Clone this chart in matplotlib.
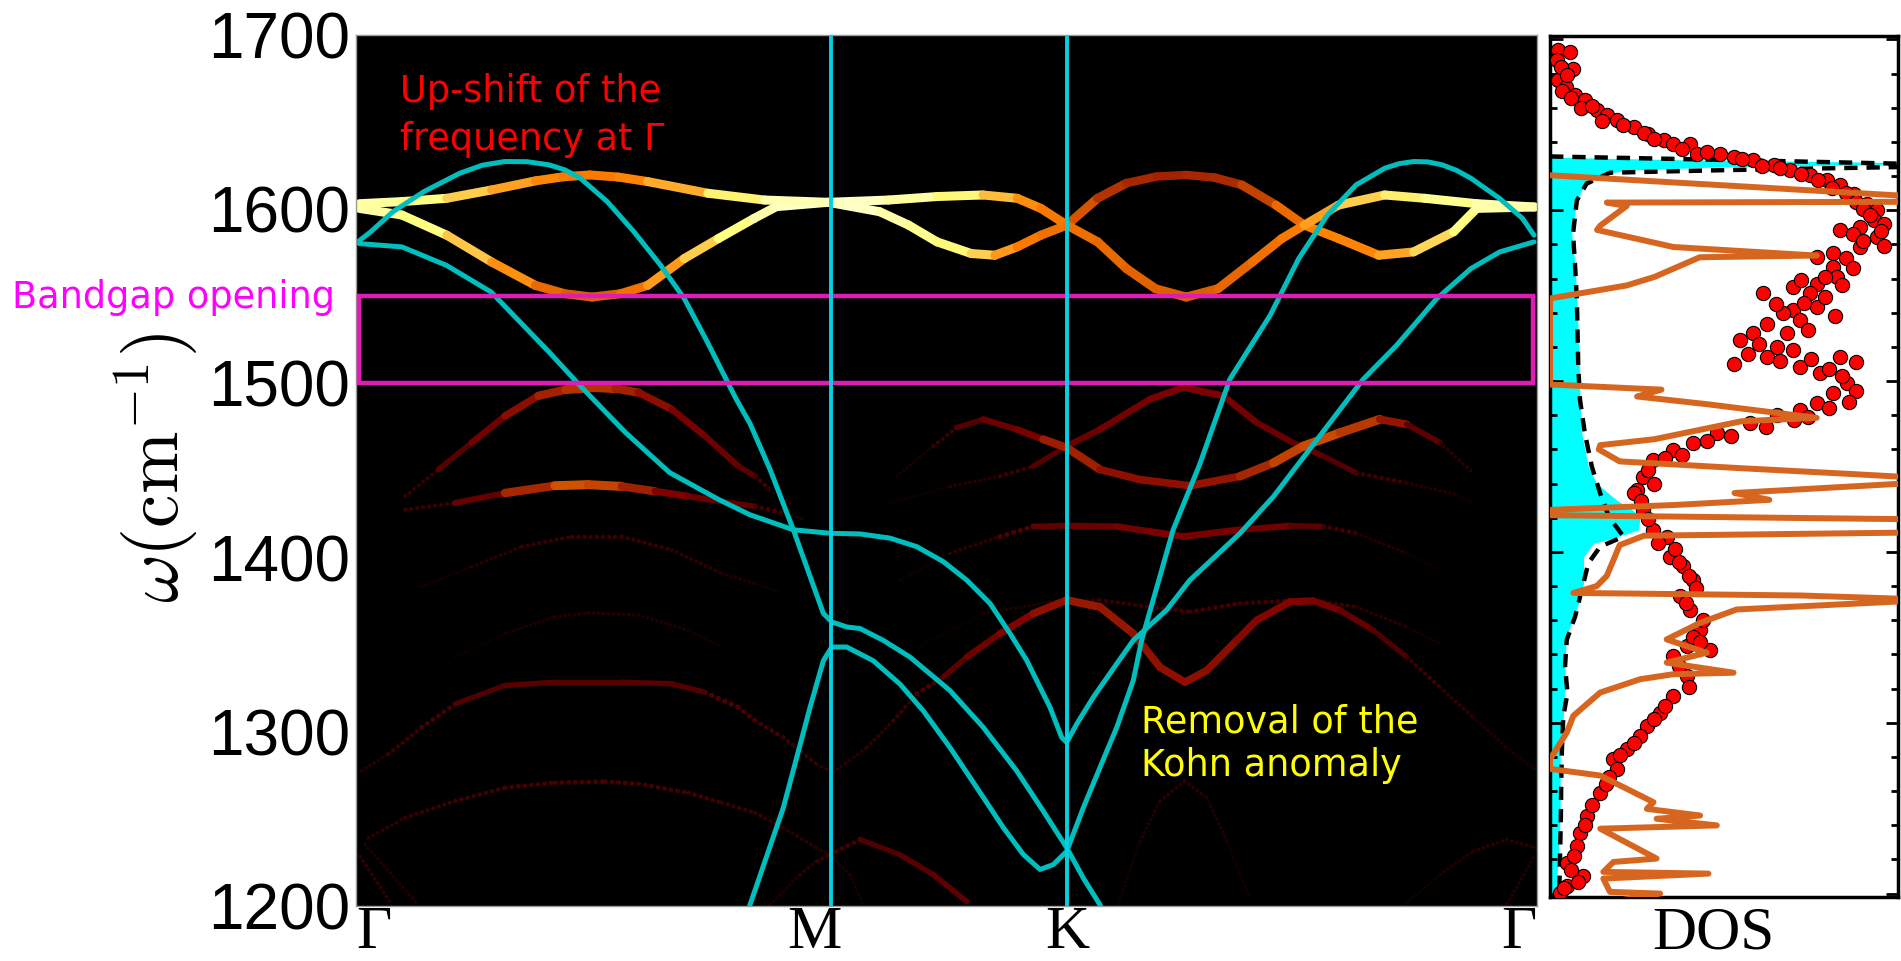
import numpy as np
import matplotlib
matplotlib.use('Agg')
import matplotlib.pyplot as plt
from matplotlib.collections import LineCollection
from matplotlib.patches import Rectangle
from matplotlib.ticker import MultipleLocator

plt.rcParams['mathtext.fontset'] = 'cm'

# k-path: fraction along Gamma-M-K-Gamma
m_point = 0.402
k_point = 0.6024
tick_pos = [0.0, 0.388, 0.602, 1.0]
tick_labels = ['Γ', 'M', 'K', 'Γ']
freq_ticks = [1200, 1300, 1400, 1500, 1600, 1700]

# unfolded bands: (k, omega, spectral weight)
band_up1 = [(0.003, 1603.2, 0.83), (0.039, 1604.4, 0.8), (0.077, 1606.3, 0.7), (0.115, 1611.1, 0.6),
            (0.152, 1616.3, 0.53), (0.175, 1618.6, 0.5), (0.198, 1619.7, 0.48), (0.222, 1618.5, 0.5),
            (0.247, 1615.9, 0.52), (0.298, 1609.2, 0.65), (0.346, 1605.3, 0.8), (0.40, 1604.0, 0.9),
            (0.451, 1605.3, 0.85), (0.492, 1607.3, 0.78), (0.531, 1608.2, 0.69), (0.56, 1606.3, 0.55),
            (0.58, 1600.5, 0.5), (0.602, 1590.9, 0.47), (0.628, 1581.3, 0.46), (0.6525, 1565.9, 0.45),
            (0.677, 1554.4, 0.44), (0.703, 1549.6, 0.43), (0.730, 1554.4, 0.44), (0.759, 1569.7, 0.46),
            (0.784, 1583.2, 0.48), (0.803, 1590.9, 0.5), (0.832, 1602.4, 0.62), (0.871, 1608.2, 0.68),
            (0.905, 1606.3, 0.75), (0.949, 1603.2, 0.82), (0.998, 1601.3, 0.85)]
band_up2 = [(0.003, 1600.5, 0.83), (0.039, 1596.7, 0.8), (0.077, 1585.1, 0.7), (0.115, 1569.7, 0.58),
            (0.152, 1556.3, 0.48), (0.177, 1551.5, 0.44), (0.20, 1549.6, 0.42), (0.224, 1551.5, 0.45),
            (0.247, 1556.3, 0.5), (0.278, 1571.7, 0.6), (0.307, 1583.2, 0.7), (0.337, 1594.7, 0.8),
            (0.356, 1601.5, 0.86), (0.40, 1604.0, 0.92), (0.4435, 1598.6, 0.85), (0.468, 1590.9, 0.8),
            (0.492, 1581.3, 0.75), (0.521, 1574.6, 0.72), (0.541, 1573.6, 0.6), (0.560, 1578.4, 0.5),
            (0.580, 1585.1, 0.48), (0.602, 1590.9, 0.46), (0.628, 1606.3, 0.37), (0.6525, 1615.0, 0.33),
            (0.678, 1618.8, 0.32), (0.703, 1619.7, 0.32), (0.727, 1618.2, 0.33), (0.750, 1614.0, 0.34),
            (0.779, 1602.4, 0.42), (0.803, 1590.9, 0.5), (0.832, 1583.2, 0.5), (0.866, 1573.6, 0.52),
            (0.8955, 1575.5, 0.62), (0.9295, 1587.1, 0.72), (0.949, 1600.5, 0.8), (0.998, 1601.3, 0.85)]
band_a = [(0.0417, 1435.2, 0.06), (0.0699, 1450.6, 0.15), (0.0981, 1466.0, 0.2), (0.1263, 1481.3, 0.25),
          (0.1545, 1492.9, 0.3), (0.178, 1496.5, 0.34), (0.2025, 1497.7, 0.37), (0.22, 1497.0, 0.34),
          (0.2392, 1494.8, 0.3), (0.2674, 1485.2, 0.25), (0.2956, 1469.8, 0.22), (0.3238, 1452.5, 0.2),
          (0.338, 1446.7, 0.16), (0.3507, 1439.0, 0.1), (0.37, 1430.0, 0.04)]
band_b = [(0.0417, 1427.5, 0.08), (0.084, 1431.4, 0.15), (0.1263, 1437.1, 0.25), (0.1686, 1441.3, 0.4),
          (0.1968, 1441.9, 0.42), (0.2251, 1440.9, 0.35), (0.2533, 1438.1, 0.28), (0.2815, 1435.2, 0.22),
          (0.3098, 1432.3, 0.2), (0.338, 1429.4, 0.17), (0.3619, 1425.6, 0.1), (0.38, 1422.0, 0.04)]
band_c = [(0.0558, 1383.3, 0.03), (0.0981, 1394.8, 0.07), (0.1404, 1406.3, 0.1), (0.1828, 1412.1, 0.12),
          (0.2251, 1412.1, 0.12), (0.2674, 1404.4, 0.1), (0.3098, 1391.0, 0.08), (0.338, 1385.2, 0.06),
          (0.36, 1380.0, 0.03)]
band_d = [(0.084, 1342.9, 0.02), (0.1263, 1356.4, 0.05), (0.1686, 1366.0, 0.07), (0.1968, 1368.3, 0.08),
          (0.2392, 1367.0, 0.08), (0.2815, 1358.3, 0.06), (0.3098, 1348.7, 0.04)]
band_e = [(0.005, 1277.6, 0.05), (0.0275, 1287.2, 0.1), (0.0558, 1302.5, 0.13), (0.084, 1316.0, 0.15),
          (0.1263, 1326.6, 0.17), (0.1686, 1328.5, 0.17), (0.2251, 1328.5, 0.17), (0.2674, 1327.6, 0.17),
          (0.2956, 1322.7, 0.16), (0.3238, 1314.1, 0.15), (0.338, 1306.4, 0.14), (0.3619, 1296.8, 0.12),
          (0.3902, 1281.4, 0.1), (0.4043, 1276.6, 0.08), (0.4325, 1291.0, 0.08), (0.4551, 1306.4, 0.1),
          (0.4749, 1321.8, 0.13), (0.4974, 1331.4, 0.16), (0.5172, 1342.9, 0.2), (0.5454, 1356.4, 0.24),
          (0.5736, 1367.9, 0.27), (0.6019, 1375.6, 0.3), (0.63, 1371.7, 0.3), (0.6582, 1356.4, 0.29),
          (0.6808, 1337.1, 0.28), (0.702, 1328.5, 0.28), (0.7204, 1335.2, 0.28), (0.7458, 1352.5, 0.27),
          (0.7627, 1364.1, 0.26), (0.7909, 1374.6, 0.26), (0.8106, 1375.2, 0.25), (0.8332, 1369.8, 0.22),
          (0.8614, 1358.3, 0.18), (0.8897, 1343.0, 0.14), (0.9179, 1325.6, 0.1), (0.9461, 1308.3, 0.08),
          (0.9743, 1291.0, 0.06), (0.9997, 1277.6, 0.05)]
band_f = [(0.0106, 1239.1, 0.08), (0.0417, 1250.6, 0.1), (0.084, 1260.3, 0.12), (0.1263, 1267.9, 0.13),
          (0.1686, 1270.8, 0.14), (0.2109, 1271.4, 0.14), (0.2392, 1270.2, 0.14), (0.2815, 1265.0, 0.13),
          (0.3098, 1259.3, 0.12), (0.338, 1253.5, 0.11), (0.3619, 1244.9, 0.1), (0.3902, 1233.3, 0.08),
          (0.4015, 1229.5, 0.07), (0.4183, 1218.0, 0.06), (0.4297, 1200.7, 0.05)]
band_g = [(0.3507, 1200.7, 0.05), (0.376, 1218.0, 0.08), (0.3902, 1225.7, 0.1), (0.4015, 1229.5, 0.12),
          (0.4269, 1238.2, 0.15), (0.4607, 1229.5, 0.17), (0.4889, 1218.0, 0.18), (0.5172, 1202.6, 0.18)]
band_h = [(0.4579, 1446.7, 0.03), (0.4889, 1464.0, 0.08), (0.5087, 1474.6, 0.14), (0.5313, 1479.4, 0.2),
          (0.5595, 1473.6, 0.22), (0.582, 1467.9, 0.26), (0.6019, 1463.1, 0.35), (0.63, 1450.6, 0.28),
          (0.6639, 1444.8, 0.28), (0.7062, 1441.3, 0.28), (0.7486, 1446.7, 0.3), (0.7768, 1454.4, 0.35),
          (0.8022, 1464.0, 0.4), (0.8332, 1471.7, 0.39), (0.867, 1479.4, 0.33), (0.8897, 1476.5, 0.25),
          (0.9179, 1466.0, 0.12), (0.9461, 1448.6, 0.05)]
band_i = [(0.4523, 1431.4, 0.02), (0.5031, 1440.9, 0.06), (0.5454, 1446.7, 0.1), (0.5736, 1452.5, 0.14),
          (0.6019, 1464.0, 0.2), (0.63, 1473.6, 0.22), (0.6724, 1491.0, 0.24), (0.7006, 1497.7, 0.25),
          (0.7344, 1492.9, 0.24), (0.7627, 1477.5, 0.22), (0.7909, 1466.9, 0.2), (0.8191, 1458.2, 0.18),
          (0.8473, 1448.6, 0.15), (0.8897, 1442.9, 0.1), (0.932, 1436.2, 0.05), (0.9461, 1431.0, 0.03)]
band_j = [(0.4607, 1387.1, 0.02), (0.5031, 1402.5, 0.06), (0.5454, 1412.1, 0.12), (0.5736, 1417.9, 0.18),
          (0.6019, 1418.3, 0.2), (0.6442, 1417.9, 0.22), (0.6724, 1415.0, 0.24), (0.7006, 1412.1, 0.25),
          (0.7486, 1416.0, 0.23), (0.7909, 1418.3, 0.2), (0.8191, 1417.9, 0.16), (0.8473, 1414.0, 0.1),
          (0.8897, 1402.5, 0.05), (0.9179, 1392.9, 0.02)]
band_k = [(0.4749, 1348.7, 0.02), (0.5313, 1367.9, 0.05), (0.5877, 1374.6, 0.08), (0.63, 1375.6, 0.1),
          (0.6724, 1371.7, 0.12), (0.7062, 1368.9, 0.13), (0.7486, 1373.7, 0.13), (0.805, 1376.0, 0.12),
          (0.8473, 1371.7, 0.1), (0.8897, 1360.2, 0.07), (0.9179, 1350.6, 0.04)]
band_l = [(0.645, 1200.5, 0.03), (0.6639, 1237.2, 0.06), (0.6808, 1260.3, 0.08), (0.702, 1271.8, 0.09),
          (0.7204, 1262.2, 0.08), (0.7373, 1237.2, 0.06), (0.757, 1204.5, 0.04)]
band_m = [(0.884, 1198.7, 0.03), (0.9179, 1218.0, 0.06), (0.9461, 1231.4, 0.08), (0.9743, 1238.2, 0.09),
          (0.9997, 1233.3, 0.08)]
band_g1 = [(0.0036, 1228.5, 0.1), (0.0304, 1200.7, 0.08)]
band_g2 = [(0.0078, 1235.3, 0.08), (0.0529, 1200.7, 0.06)]
band_g3 = [(0.9969, 1227.6, 0.08), (0.9743, 1200.7, 0.06)]

# pristine dispersion (k, omega)
pristine_to = [(0.003, 1580.3), (0.039, 1578.4), (0.0767, 1567.8), (0.1145, 1552.5), (0.1636, 1518.0),
               (0.19, 1498.6), (0.228, 1472.0), (0.2657, 1448.8), (0.3074, 1433.3), (0.3337, 1424.6),
               (0.3704, 1416.0), (0.4015, 1414.0), (0.4269, 1413.6), (0.4523, 1411.2), (0.4749, 1406.3),
               (0.4974, 1397.7), (0.5172, 1387.1), (0.5369, 1373.7), (0.5539, 1356.4), (0.568, 1341.0),
               (0.5736, 1333.3), (0.5877, 1314.1), (0.5976, 1296.8), (0.6019, 1293.9), (0.6103, 1304.5),
               (0.6244, 1319.9), (0.6442, 1339.1), (0.6582, 1352.5), (0.6865, 1370.0), (0.706, 1387.0),
               (0.7486, 1414.0), (0.7768, 1435.0), (0.805, 1460.0), (0.8332, 1485.0), (0.853, 1502.5),
               (0.8809, 1521.7), (0.915, 1548.6), (0.944, 1565.9), (0.9684, 1575.5), (0.9975, 1581.3)]
pristine_lo = [(0.003, 1582.0), (0.0125, 1587.0), (0.0314, 1598.6), (0.0578, 1610.2), (0.088, 1620.7),
               (0.107, 1625.3), (0.1259, 1627.4), (0.145, 1627.3), (0.1636, 1625.5), (0.177, 1622.6),
               (0.1901, 1617.8), (0.2128, 1604.4), (0.2354, 1587.1), (0.2581, 1567.8), (0.2782, 1548.6),
               (0.2977, 1523.6), (0.322, 1491.0), (0.3337, 1477.0), (0.3507, 1450.6), (0.3704, 1416.0),
               (0.3958, 1368.0), (0.4029, 1363.1), (0.4156, 1360.2), (0.4269, 1359.3), (0.4466, 1352.5),
               (0.4692, 1342.9), (0.503, 1323.7), (0.5313, 1302.5), (0.5595, 1277.6), (0.582, 1254.5),
               (0.6019, 1233.4), (0.6159, 1216.1), (0.63, 1200.7), (0.64, 1188.0)]
pristine_la = [(0.3316, 1195.0), (0.3337, 1200.7), (0.3619, 1256.4), (0.3845, 1313.9), (0.3958, 1340.8),
               (0.4029, 1348.7), (0.4156, 1348.7), (0.4381, 1340.8), (0.4607, 1327.4), (0.4805, 1312.0),
               (0.503, 1291.0), (0.5257, 1268.0), (0.5482, 1245.0), (0.5651, 1229.6), (0.5793, 1221.0),
               (0.5905, 1223.8), (0.6019, 1231.5), (0.6159, 1256.4), (0.63, 1279.5), (0.6442, 1302.5),
               (0.6582, 1329.5), (0.6653, 1352.5), (0.692, 1416.0), (0.7147, 1454.0), (0.740, 1502.5),
               (0.774, 1539.0), (0.7983, 1571.7), (0.8226, 1596.7), (0.8469, 1614.0), (0.8712, 1623.6),
               (0.8834, 1626.2), (0.8955, 1627.4), (0.9076, 1627.2), (0.9198, 1625.5), (0.932, 1622.3),
               (0.9441, 1617.8), (0.9684, 1606.2), (0.9878, 1594.7), (0.9975, 1585.1)]

gap_low, gap_high = 1500, 1550

# DOS panel (dos in arbitrary units, omega)
dos_fill = [(0.0, 1634.0), (0.02, 1631.0), (0.4, 1629.5), (1.0, 1628.0), (1.05, 1627.0), (0.5, 1625.5),
            (0.22, 1623.5), (0.13, 1620.0), (0.105, 1617.5), (0.077, 1605.8), (0.062, 1586.5),
            (0.072, 1566.9), (0.077, 1547.4), (0.081, 1527.9), (0.084, 1508.4), (0.086, 1488.9),
            (0.091, 1469.4), (0.11, 1449.9), (0.1335, 1440.2), (0.191, 1430.4), (0.24, 1424.0),
            (0.258, 1420.7), (0.255, 1413.0), (0.18, 1408.0), (0.124, 1405.0), (0.096, 1397.2),
            (0.096, 1381.6), (0.086, 1371.9), (0.067, 1362.1), (0.048, 1350.4), (0.043, 1338.7),
            (0.043, 1323.1), (0.038, 1303.6), (0.029, 1284.1), (0.029, 1264.6), (0.029, 1245.2),
            (0.024, 1225.7), (0.019, 1206.2), (0.017, 1198.0)]
dos_broad = [(0.0, 1631.5), (0.5, 1629.5), (1.0, 1627.3), (1.1, 1626.5), (1.0, 1625.3), (0.5, 1623.5),
             (0.172, 1622.0), (0.105, 1615.6), (0.077, 1605.8), (0.066, 1586.3), (0.072, 1566.9),
             (0.077, 1547.4), (0.079, 1527.9), (0.081, 1508.4), (0.086, 1488.9), (0.1, 1469.4),
             (0.12, 1449.9), (0.144, 1434.3), (0.17, 1420.0), (0.19, 1414.8), (0.211, 1409.0),
             (0.144, 1403.1), (0.11, 1393.4), (0.091, 1377.8), (0.072, 1362.2), (0.048, 1348.6),
             (0.043, 1333.0), (0.05, 1317.4), (0.038, 1303.7), (0.034, 1284.2), (0.032, 1264.7),
             (0.031, 1245.3), (0.029, 1225.8), (0.027, 1206.3), (0.026, 1198.0)]
dos_defect = [(0.0, 1620.5), (1.1, 1607.5), (1.1, 1605.0), (0.163, 1604.5), (0.22, 1602.5), (0.144, 1591.0),
              (0.135, 1588.5), (0.30, 1581.0), (0.354, 1578.5), (0.766, 1573.5), (0.43, 1572.5),
              (0.30, 1561.0), (0.22, 1556.0), (0.0, 1548.4), (0.0, 1498.0), (0.32, 1495.0),
              (0.25, 1491.0), (0.45, 1486.5), (0.766, 1478.5), (0.55, 1476.5), (0.30, 1466.0),
              (0.144, 1462.5), (0.14, 1460.0), (0.2, 1453.0), (0.55, 1449.0), (0.83, 1446.0),
              (1.1, 1443.0), (1.1, 1441.0), (0.53, 1434.5), (0.63, 1430.5), (0.36, 1427.5),
              (0.0, 1424.6), (0.0, 1421.5), (1.1, 1419.0), (1.1, 1411.5), (0.27, 1409.5), (0.2, 1404.0),
              (0.163, 1386.0), (0.134, 1380.0), (0.067, 1376.0), (0.72, 1374.5), (1.1, 1372.0),
              (0.536, 1366.3), (0.431, 1358.5), (0.335, 1348.8), (0.45, 1341.0), (0.335, 1335.2),
              (0.527, 1329.3), (0.354, 1328.4), (0.259, 1325.5), (0.144, 1317.7), (0.067, 1304.1),
              (0.048, 1294.3), (0.0, 1278.7), (0.0, 1273.0), (0.144, 1269.1), (0.297, 1253.5),
              (0.278, 1249.6), (0.431, 1245.7), (0.306, 1243.8), (0.479, 1239.9), (0.144, 1238.0),
              (0.306, 1220.5), (0.182, 1218.5), (0.153, 1212.7), (0.455, 1211.7), (0.153, 1208.8),
              (0.172, 1201.0), (0.316, 1200.0), (0.2, 1196.0)]
dos_exp = [(0.024, 1693.6), (0.057, 1692.6), (0.019, 1687.7), (0.067, 1682.9), (0.024, 1676.0),
           (0.045, 1672.0), (0.072, 1667.3), (0.1, 1664.3), (0.134, 1658.5), (0.163, 1655.6),
           (0.192, 1652.6), (0.24, 1648.7), (0.282, 1644.8), (0.326, 1640.9), (0.354, 1639.0),
           (0.402, 1639.0), (0.421, 1633.2), (0.488, 1633.2), (0.527, 1631.2), (0.584, 1629.2),
           (0.642, 1626.3), (0.69, 1623.4), (0.747, 1620.5), (0.795, 1617.5), (0.834, 1614.6),
           (0.872, 1609.8), (0.911, 1603.9), (0.94, 1600.0), (0.93, 1594.2), (0.891, 1590.3),
           (0.834, 1588.3), (0.94, 1584.4), (0.891, 1578.6), (0.814, 1574.7), (0.766, 1572.7),
           (0.814, 1566.9), (0.824, 1561.0), (0.766, 1557.1), (0.699, 1555.2), (0.613, 1551.3),
           (0.747, 1551.3), (0.766, 1543.5), (0.699, 1541.5), (0.67, 1539.6), (0.623, 1533.7),
           (0.718, 1535.7), (0.584, 1527.9), (0.546, 1524.0), (0.651, 1520.1), (0.527, 1510.3),
           (0.623, 1514.2), (0.699, 1518.1), (0.834, 1514.2), (0.718, 1508.4), (0.776, 1504.5),
           (0.853, 1498.6), (0.814, 1492.8), (0.766, 1487.0), (0.718, 1483.1), (0.651, 1480.1),
           (0.575, 1475.3), (0.479, 1469.4), (0.412, 1463.6), (0.354, 1459.6), (0.297, 1453.8),
           (0.268, 1444.1), (0.249, 1436.3), (0.24, 1434.4), (0.268, 1424.6), (0.297, 1412.9),
           (0.335, 1409.0), (0.345, 1397.3), (0.383, 1391.5), (0.412, 1383.7), (0.373, 1374.0),
           (0.402, 1366.2), (0.431, 1354.5), (0.46, 1342.8), (0.393, 1344.8), (0.354, 1338.9),
           (0.393, 1327.2), (0.354, 1315.5), (0.316, 1305.8), (0.278, 1298.0), (0.259, 1292.2),
           (0.22, 1284.4), (0.182, 1278.5), (0.192, 1272.7), (0.144, 1259.0), (0.105, 1245.4),
           (0.086, 1235.6), (0.077, 1227.8), (0.048, 1218.1), (0.096, 1210.3), (0.048, 1204.4),
           (0.029, 1200.5),
           (0.03, 1684.0), (0.05, 1679.0), (0.035, 1670.0), (0.06, 1666.0), (0.09, 1660.0), (0.12, 1661.0),
           (0.15, 1652.0), (0.21, 1650.0), (0.27, 1645.0), (0.3, 1642.0), (0.38, 1636.0), (0.45, 1634.0),
           (0.55, 1630.0), (0.61, 1626.0), (0.66, 1624.5), (0.72, 1621.5), (0.77, 1617.8), (0.81, 1613.0),
           (0.85, 1610.0), (0.88, 1605.0), (0.9, 1601.0), (0.92, 1597.0), (0.96, 1592.0), (0.95, 1588.0),
           (0.87, 1586.0), (0.9, 1582.0), (0.96, 1579.0), (0.85, 1572.0), (0.87, 1566.0), (0.79, 1561.0),
           (0.72, 1559.0), (0.84, 1556.0), (0.79, 1549.0), (0.73, 1546.0), (0.65, 1545.0), (0.82, 1538.0),
           (0.74, 1530.0), (0.68, 1528.0), (0.6, 1522.0), (0.57, 1516.0), (0.66, 1512.0), (0.75, 1513.0),
           (0.88, 1511.0), (0.8, 1507.0), (0.84, 1503.0), (0.88, 1494.0), (0.86, 1488.0), (0.8, 1484.0),
           (0.74, 1479.0), (0.7, 1477.0), (0.62, 1473.0), (0.52, 1468.0), (0.45, 1465.0), (0.38, 1457.0),
           (0.33, 1455.0), (0.28, 1448.0), (0.3, 1440.0), (0.26, 1430.0), (0.28, 1419.0), (0.31, 1405.0),
           (0.36, 1402.0), (0.37, 1394.0), (0.4, 1386.0), (0.42, 1379.0), (0.39, 1370.0), (0.44, 1360.0),
           (0.41, 1350.0), (0.43, 1347.0), (0.37, 1333.0), (0.4, 1321.0), (0.33, 1310.0), (0.3, 1302.0),
           (0.24, 1288.0), (0.2, 1281.0), (0.17, 1268.0), (0.16, 1264.0), (0.12, 1252.0), (0.1, 1240.0),
           (0.07, 1222.0), (0.06, 1214.0), (0.08, 1207.0), (0.04, 1203.0)]


def draw_band(ax, pts):
    # weak parts look like rows of dots, strong parts like a solid ribbon
    pts = np.asarray(pts)
    segs = np.stack([pts[:-1, :2], pts[1:, :2]], axis=1)
    w = 0.5 * (pts[:-1, 2] + pts[1:, 2])
    widths = np.minimum(2 + 20 * w, 9) * 0.72
    styles = [(0, (0.1, 1.3)) if wi < 0.16 else 'solid' for wi in w]
    lc = LineCollection(segs, colors=plt.cm.afmhot(w), linewidths=widths,
                        linestyles=styles, capstyle='round', zorder=2)
    ax.add_collection(lc)


fig = plt.figure(figsize=(19.01, 9.61), dpi=100)
ax = fig.add_axes([0.1872, 0.0572, 0.6213, 0.9063])
ax.set_facecolor('black')

for b in [band_c, band_d, band_k, band_l, band_m, band_g1, band_g2, band_g3, band_f, band_g,
          band_j, band_i, band_e, band_h, band_b, band_a, band_up2, band_up1]:
    draw_band(ax, b)

for curve in [pristine_to, pristine_lo, pristine_la]:
    c = np.asarray(curve)
    ax.plot(c[:, 0], c[:, 1], color='#00BEBE', lw=3.6, zorder=3, solid_capstyle='round')

ax.add_patch(Rectangle((0.003, gap_low), 0.994, gap_high - gap_low, fill=False,
                       ec='#DE1CB6', lw=3.2, zorder=4))
for xv in [m_point, k_point]:
    ax.axvline(xv, color='#00D2E4', lw=2.8, zorder=5)

ax.text(0.037, 1634, 'Up-shift of the\nfrequency at Γ', color='red', fontsize=26.4,
        family='DejaVu Sans', va='baseline', ha='left', linespacing=1.38, zorder=6)
ax.text(0.6645, 1274.5, 'Removal of the\nKohn anomaly', color='yellow', fontsize=26.4,
        family='DejaVu Sans', va='baseline', ha='left', linespacing=1.22, zorder=6)
fig.text(12 / 1901, 1 - 308 / 961, 'Bandgap opening', color='#FF00FF', fontsize=26.4,
         family='DejaVu Sans', va='baseline', ha='left')

ax.set_xlim(0, 1)
ax.set_ylim(1200, 1700)
ax.set_yticks(freq_ticks)
ax.set_yticklabels([str(t) for t in freq_ticks], family='Liberation Sans', fontsize=46)
ax.set_xticks(tick_pos)
ax.set_xticklabels(tick_labels, family='Liberation Serif', fontsize=44)
xl = ax.get_xticklabels()
xl[0].set_ha('left')
xl[-1].set_ha('right')
ax.tick_params(axis='both', length=0)
ax.tick_params(axis='y', pad=4)
ax.tick_params(axis='x', pad=-0.5)
for s in ax.spines.values():
    s.set_color('#9a9a9a')
    s.set_linewidth(1)

fig.text(156 / 1901, 1 - 468 / 961, r'$\omega(\mathrm{cm}^{-1})$', rotation=90,
         ha='center', va='center', fontsize=54)

# DOS panel
ax2 = fig.add_axes([0.8154, 0.0666, 0.1831, 0.8959])
f = np.asarray(dos_fill)
ax2.fill_betweenx(f[:, 1], 0, f[:, 0], color='#00FFFF', lw=0, zorder=1)
d = np.asarray(dos_broad)
ax2.plot(d[:, 0], d[:, 1], color='black', lw=3.2, ls=(0, (3, 2)), zorder=2)
e = np.asarray(dos_exp)
ax2.scatter(e[:, 0], e[:, 1], s=105, c='red', edgecolors='black', linewidths=0.8, zorder=3)
o = np.asarray(dos_defect)
ax2.plot(o[:, 0], o[:, 1], color='#D6661F', lw=4.3, zorder=4)

ax2.set_xlim(0, 1)
ax2.set_ylim(1198, 1702)
ax2.set_xticks([])
ax2.yaxis.set_major_locator(MultipleLocator(100))
ax2.yaxis.set_minor_locator(MultipleLocator(20))
ax2.tick_params(axis='y', which='both', direction='in', left=True, right=True,
                labelleft=False, width=2)
ax2.tick_params(axis='y', which='major', length=9)
ax2.tick_params(axis='y', which='minor', length=5)
for s in ax2.spines.values():
    s.set_linewidth(2.5)
ax2.set_xlabel('DOS', family='Liberation Serif', fontsize=44)
ax2.xaxis.set_label_coords(0.468, -0.01)

fig.savefig('out.png', dpi=100)
